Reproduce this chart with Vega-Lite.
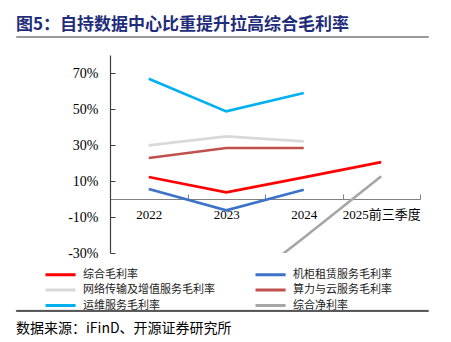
{
  "$schema": "https://vega.github.io/schema/vega-lite/v6.json",
  "padding": {"left": 15, "top": 15, "right": 0, "bottom": 0},
  "spacing": 13,
  "config": {
    "font": "Noto Sans CJK SC",
    "view": {"stroke": null}
  },
  "datasets": {
    "rates": [
      {"year": "2022", "series": "综合毛利率", "value": 12.2},
      {"year": "2023", "series": "综合毛利率", "value": 3.7},
      {"year": "2024", "series": "综合毛利率", "value": 12.0},
      {"year": "2025前三季度", "series": "综合毛利率", "value": 20.5},
      {"year": "2022", "series": "机柜租赁服务毛利率", "value": 5.5},
      {"year": "2023", "series": "机柜租赁服务毛利率", "value": -6.3},
      {"year": "2024", "series": "机柜租赁服务毛利率", "value": 5.2},
      {"year": "2022", "series": "网络传输及增值服务毛利率", "value": 29.8},
      {"year": "2023", "series": "网络传输及增值服务毛利率", "value": 34.8},
      {"year": "2024", "series": "网络传输及增值服务毛利率", "value": 32.0},
      {"year": "2022", "series": "算力与云服务毛利率", "value": 22.8},
      {"year": "2023", "series": "算力与云服务毛利率", "value": 28.3},
      {"year": "2024", "series": "算力与云服务毛利率", "value": 28.3},
      {"year": "2022", "series": "运维服务毛利率", "value": 66.8},
      {"year": "2023", "series": "运维服务毛利率", "value": 48.7},
      {"year": "2024", "series": "运维服务毛利率", "value": 58.9},
      {"year": "2023", "series": "综合净利率", "value": -55},
      {"year": "2024", "series": "综合净利率", "value": -21.5},
      {"year": "2025前三季度", "series": "综合净利率", "value": 12.6}
    ]
  },
  "vconcat": [
    {
      "data": {"values": [{"t": ""}]},
      "mark": {"type": "text"},
      "encoding": {"text": {"field": "t"}},
      "width": 412,
      "height": 1,
      "view": {"stroke": "#9a9a9a", "strokeWidth": 1},
      "title": {
        "text": "图5：自持数据中心比重提升拉高综合毛利率",
        "anchor": "start",
        "fontSize": 17,
        "fontWeight": "bold",
        "color": "#1F2D7B",
        "font": "Noto Sans CJK SC",
        "offset": -3
      }
    },
    {
      "spacing": 44,
      "vconcat": [
        {
          "data": {"name": "rates"},
          "width": 412,
          "height": 198,
          "mark": {"type": "line", "strokeWidth": 2.6, "clip": true},
          "encoding": {
            "x": {
              "field": "year",
              "type": "nominal",
              "bandPosition": 0.5,
              "sort": ["2022", "2023", "2024", "2025前三季度"],
              "scale": {"type": "band", "paddingInner": 0, "paddingOuter": 0, "range": [94, 404]},
              "axis": {
                "orient": "bottom",
                "title": null,
                "offset": -54,
                "labelAngle": 0,
                "tickBand": "extent",
                "tickSize": -5,
                "labelPadding": 14,
                "labelFont": "Liberation Serif, Noto Sans CJK SC",
                "labelFontSize": 13,
                "labelColor": "#000000",
                "domainColor": "#808080",
                "tickColor": "#808080",
                "domainWidth": 1.2
              }
            },
            "y": {
              "field": "value",
              "type": "quantitative",
              "scale": {"domain": [-30, 80], "nice": false, "zero": false},
              "axis": {
                "title": null,
                "grid": false,
                "offset": -94,
                "values": [-30, -10, 10, 30, 50, 70],
                "labelExpr": "datum.value + '%'",
                "tickSize": -5,
                "labelPadding": 17,
                "labelFont": "Liberation Serif",
                "labelFontSize": 14,
                "labelColor": "#000000",
                "domainColor": "#404040",
                "tickColor": "#404040",
                "domainWidth": 1.2
              }
            },
            "color": {
              "field": "series",
              "type": "nominal",
              "scale": {
                "domain": ["综合毛利率", "网络传输及增值服务毛利率", "运维服务毛利率", "机柜租赁服务毛利率", "算力与云服务毛利率", "综合净利率"],
                "range": ["#FF0000", "#D9D9D9", "#00B0F0", "#3C72C8", "#C0504D", "#A6A6A6"]
              },
              "legend": {
                "title": null,
                "orient": "none",
                "legendX": 28,
                "legendY": 230,
                "padding": 0,
                "columns": 2,
                "columnPadding": 34,
                "rowPadding": 0.5,
                "symbolType": "M-1,0H3.3",
                "symbolSize": 196,
                "symbolStrokeWidth": 3,
                "labelFont": "Noto Sans CJK SC",
                "labelFontSize": 11,
                "labelColor": "#222222",
                "labelOffset": 22,
                "labelLimit": 300
              }
            }
          }
        },
        {
          "data": {"values": [{"t": ""}]},
          "mark": {"type": "text"},
          "encoding": {"text": {"field": "t"}},
          "width": 412,
          "height": 1,
          "view": {"stroke": "#333333", "strokeWidth": 0.9},
          "title": {
            "text": "数据来源：iFinD、开源证券研究所",
            "orient": "bottom",
            "anchor": "start",
            "fontSize": 14,
            "fontWeight": "normal",
            "color": "#000000",
            "font": "Noto Sans CJK SC",
            "offset": 6
          }
        }
      ]
    }
  ]
}
